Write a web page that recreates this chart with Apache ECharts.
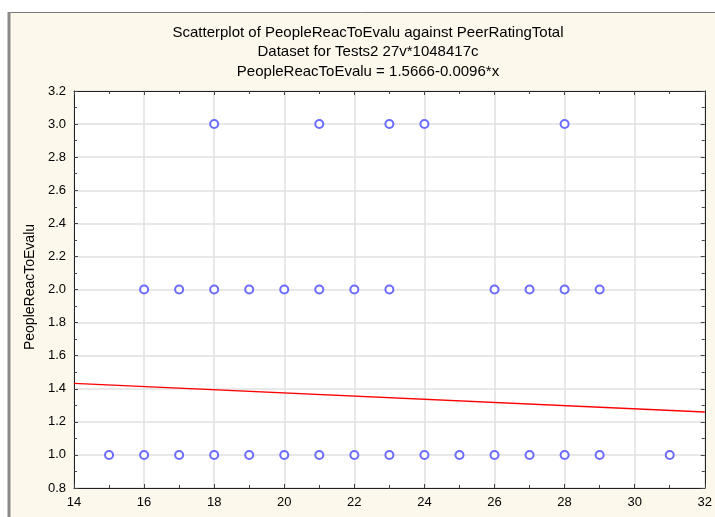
<!DOCTYPE html>
<html>
<head>
<meta charset="utf-8">
<script src="https://cdn.jsdelivr.net/npm/echarts@6/dist/echarts.min.js"></script>
<style>
html,body{margin:0;padding:0;background:#ffffff;}
#c{width:715px;height:517px;}
</style>
</head>
<body>
<div id="c"></div>
<script>
// Data
const titleLines = [
  'Scatterplot of PeopleReacToEvalu against PeerRatingTotal',
  'Dataset for Tests2 27v*1048417c',
  'PeopleReacToEvalu = 1.5666-0.0096*x'
];
const yAxisName = 'PeopleReacToEvalu';
const pointsX = [18,21,23,24,28,
                 16,17,18,19,20,21,22,23,26,27,28,29,
                 15,16,17,18,19,20,21,22,23,24,25,26,27,28,29,31];
const pointsY = [3,3,3,3,3,
                 2,2,2,2,2,2,2,2,2,2,2,2,
                 1,1,1,1,1,1,1,1,1,1,1,1,1,1,1,1];
const fitIntercept = 1.5666;
const fitSlope = -0.0096;
const xRange = [14, 32];
const yRange = [0.8, 3.2];

const scatterData = pointsX.map((x, i) => [x, pointsY[i]]);
const fitData = xRange.map(x => [x, fitIntercept + fitSlope * x]);

const FONT = '"Liberation Sans", Arial, sans-serif';
const chart = echarts.init(document.getElementById('c'), null, {renderer: 'canvas'});

const axisCommon = {
  axisLine: {show: true, onZero: false, lineStyle: {color: '#222', width: 1}},
  axisTick: {show: true, inside: true, length: 4, lineStyle: {color: '#444'}},
  minorTick: {show: true, splitNumber: 2, length: 3, lineStyle: {color: '#444'}}
};

chart.setOption({
  animation: false,
  backgroundColor: '#ffffff',
  graphic: [
    {type: 'rect', shape: {x: 8, y: 12, width: 720, height: 520},
     style: {fill: '#fdf8ec', stroke: null}, z: -10, silent: true},
    {type: 'line', shape: {x1: 8, y1: 12.5, x2: 715, y2: 12.5},
     style: {stroke: '#7a7a7a', lineWidth: 1}, z: -9},
    {type: 'line', shape: {x1: 9, y1: 12, x2: 9, y2: 517},
     style: {stroke: '#8a8a8a', lineWidth: 3}, z: -9},
    {type: 'text', x: 368, y: 33, style: {text: titleLines[0], textAlign: 'center', textVerticalAlign: 'middle', font: '15px ' + FONT, fill: '#000'}},
    {type: 'text', x: 368, y: 52, style: {text: titleLines[1], textAlign: 'center', textVerticalAlign: 'middle', font: '15px ' + FONT, fill: '#000'}},
    {type: 'text', x: 368, y: 72, style: {text: titleLines[2], textAlign: 'center', textVerticalAlign: 'middle', font: '15px ' + FONT, fill: '#000'}},
    {type: 'text', x: 30, y: 287, rotation: Math.PI / 2,
     style: {text: yAxisName, textAlign: 'center', textVerticalAlign: 'middle', font: '14px ' + FONT, fill: '#000'}}
  ],
  grid: {left: 74, top: 91, right: 9, bottom: 29, show: true, backgroundColor: '#ffffff', borderWidth: 0},
  xAxis: [
    Object.assign({}, axisCommon, {
      type: 'value', min: xRange[0], max: xRange[1], interval: 2, position: 'bottom',
      axisLabel: {color: '#000', fontSize: 13, fontFamily: FONT, margin: 8},
      splitLine: {show: true, lineStyle: {color: '#e0e0e0', width: 1.5}}
    }),
    Object.assign({}, axisCommon, {
      type: 'value', min: xRange[0], max: xRange[1], interval: 2, position: 'top',
      axisLabel: {show: false}, splitLine: {show: false}
    })
  ],
  yAxis: [
    Object.assign({}, axisCommon, {
      type: 'value', min: yRange[0], max: yRange[1], interval: 0.2, position: 'left',
      axisLabel: {color: '#000', fontSize: 13, fontFamily: FONT, margin: 8,
                  formatter: v => v.toFixed(1)},
      splitLine: {show: true, lineStyle: {color: '#e0e0e0', width: 1.5}}
    }),
    Object.assign({}, axisCommon, {
      type: 'value', min: yRange[0], max: yRange[1], interval: 0.2, position: 'right',
      axisLabel: {show: false}, splitLine: {show: false}
    })
  ],
  series: [
    {
      type: 'line', data: fitData, xAxisIndex: 0, yAxisIndex: 0,
      showSymbol: false, symbol: 'none',
      lineStyle: {color: '#ff0000', width: 1.3}, z: 3, silent: true
    },
    {
      type: 'scatter', data: scatterData, xAxisIndex: 0, yAxisIndex: 0,
      symbol: 'circle', symbolSize: 8,
      itemStyle: {color: '#ffffff', borderColor: '#6b6bff', borderWidth: 2, opacity: 1},
      z: 4
    }
  ]
});
</script>
</body>
</html>
